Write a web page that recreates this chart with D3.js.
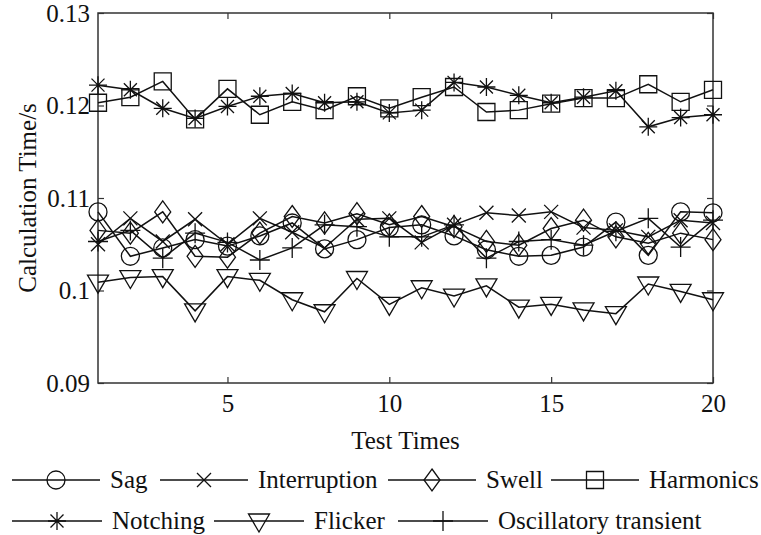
<!DOCTYPE html>
<html>
<head>
<meta charset="utf-8">
<script src="https://cdn.jsdelivr.net/npm/d3@7/dist/d3.min.js"></script>
<style>
  body { margin: 0; background: #fff; }
  text { font-family: "Liberation Serif", "Times New Roman", serif; fill: #111; }
</style>
</head>
<body>
<div id="chart"></div>
<script>
// test index 1..20
var testTimes = d3.range(1, 21);

var sag = [0.1085, 0.1037, 0.1046, 0.1055, 0.1048, 0.1059, 0.1073, 0.1045, 0.1055, 0.1068,
           0.1071, 0.1059, 0.1044, 0.1037, 0.1038, 0.1047, 0.1074, 0.1038, 0.1085, 0.1084];
var interruption = [0.1050, 0.1078, 0.1053, 0.1077, 0.1050, 0.1078, 0.1063, 0.1046, 0.1077, 0.1078,
                    0.1052, 0.1071, 0.1084, 0.1081, 0.1085, 0.1068, 0.1065, 0.1058, 0.1076, 0.1073];
var swell = [0.1065, 0.1062, 0.1085, 0.1037, 0.1036, 0.1062, 0.1080, 0.1073, 0.1083, 0.1071,
             0.1080, 0.1069, 0.1053, 0.1049, 0.1067, 0.1076, 0.1058, 0.1051, 0.1062, 0.1055];
var harmonics = [0.1203, 0.1209, 0.1226, 0.1185, 0.1218, 0.1190, 0.1204, 0.1195, 0.1210, 0.1197,
                 0.1209, 0.1220, 0.1193, 0.1195, 0.1202, 0.1208, 0.1208, 0.1223, 0.1204, 0.1217];
var notching = [0.1222, 0.1217, 0.1197, 0.1186, 0.1199, 0.1210, 0.1213, 0.1203, 0.1204, 0.1192,
                0.1195, 0.1225, 0.1220, 0.1211, 0.1203, 0.1209, 0.1216, 0.1177, 0.1187, 0.1190];
var flicker = [0.1009, 0.1014, 0.1015, 0.0978, 0.1015, 0.1011, 0.0990, 0.0977, 0.1013, 0.0985,
               0.1003, 0.0994, 0.1005, 0.0982, 0.0985, 0.0979, 0.0975, 0.1007, 0.0999, 0.0990];
var oscillatory = [0.1053, 0.1065, 0.1035, 0.1062, 0.1052, 0.1033, 0.1046, 0.1071, 0.1069, 0.1058,
                   0.1058, 0.1071, 0.1035, 0.1053, 0.1055, 0.1049, 0.1064, 0.1078, 0.1047, 0.1076];

var xTicks = [5, 10, 15, 20];
var yTicks = [0.09, 0.1, 0.11, 0.12, 0.13];

var seriesNames = ["Sag", "Interruption", "Swell", "Harmonics", "Notching", "Flicker", "Oscillatory transient"];
var seriesValues = [sag, interruption, swell, harmonics, notching, flicker, oscillatory];
var seriesMarkers = ["circle", "x", "diamond", "square", "asterisk", "triangle", "plus"];

// marker outlines, drawn around (0,0)
function markerPath(type) {
  switch (type) {
    case "circle":
      return "M9,0A9,9 0 1,1 -9,0A9,9 0 1,1 9,0Z";
    case "x":
      return "M-7,-7L7,7M-7,7L7,-7";
    case "diamond":
      return "M0,-11L8,0L0,11L-8,0Z";
    case "square":
      return "M-8.5,-8.5H8.5V8.5H-8.5Z";
    case "asterisk":
      return "M0,-9V9M-9,0H9M-6.5,-6.5L6.5,6.5M-6.5,6.5L6.5,-6.5";
    case "triangle":
      return "M-10.5,-7H10.5L0,11Z";
    case "plus":
      return "M0,-10V10M-10,0H10";
  }
}

var width = 761, height = 535;
var margin = {top: 13, right: 48, bottom: 152, left: 98};
var plotW = width - margin.left - margin.right,
    plotH = height - margin.top - margin.bottom;
var fontPx = "25px";

var svg = d3.select("#chart").append("svg")
  .attr("width", width)
  .attr("height", height);

var g = svg.append("g")
  .attr("transform", "translate(" + margin.left + "," + margin.top + ")");

var x = d3.scaleLinear().domain([1, 20]).range([0, plotW]);
var y = d3.scaleLinear().domain([0.09, 0.13]).range([plotH, 0]);

// box with inward ticks on all sides
function styleAxis(sel) {
  sel.select(".domain").remove();
  sel.selectAll(".tick line").attr("stroke", "#333").attr("stroke-width", 1.2);
  sel.selectAll(".tick text")
    .style("font-family", "'Liberation Serif', 'Times New Roman', serif")
    .style("font-size", fontPx)
    .attr("fill", "#111");
}

g.append("g")
  .attr("transform", "translate(0," + plotH + ")")
  .call(d3.axisBottom(x).tickValues(xTicks).tickSize(-6).tickPadding(11).tickFormat(d3.format("d")))
  .call(styleAxis);

g.append("g")
  .call(d3.axisTop(x).tickValues(xTicks).tickSize(-6).tickFormat(""))
  .call(styleAxis);

g.append("g")
  .call(d3.axisLeft(y).tickValues(yTicks).tickSize(-6).tickPadding(8).tickFormat(function(d) { return String(+d.toFixed(2)); }))
  .call(styleAxis);

g.append("g")
  .attr("transform", "translate(" + plotW + ",0)")
  .call(d3.axisRight(y).tickValues(yTicks).tickSize(-6).tickFormat(""))
  .call(styleAxis);

g.append("rect")
  .attr("width", plotW)
  .attr("height", plotH)
  .attr("fill", "none")
  .attr("stroke", "#333")
  .attr("stroke-width", 1.5);

// series
var line = d3.line()
  .x(function(d, i) { return x(testTimes[i]); })
  .y(function(d) { return y(d); });

seriesValues.forEach(function(vals, k) {
  g.append("path")
    .datum(vals)
    .attr("d", line)
    .attr("fill", "none")
    .attr("stroke", "#111")
    .attr("stroke-width", 1.5);

  g.selectAll(".m" + k)
    .data(vals)
    .enter().append("path")
    .attr("class", "m" + k)
    .attr("transform", function(d, i) { return "translate(" + x(testTimes[i]) + "," + y(d) + ")"; })
    .attr("d", markerPath(seriesMarkers[k]))
    .attr("fill", "none")
    .attr("stroke", "#111")
    .attr("stroke-width", 1.3);
});

// axis titles
svg.append("text")
  .attr("x", margin.left + plotW / 2)
  .attr("y", 449)
  .attr("text-anchor", "middle")
  .style("font-size", fontPx)
  .text("Test Times");

svg.append("text")
  .attr("transform", "translate(36," + (margin.top + plotH / 2) + ") rotate(-90)")
  .attr("text-anchor", "middle")
  .style("font-size", fontPx)
  .text("Calculation Time/s");

// legend, two rows
var legendRows = [
  {y: 480, items: [0, 1, 2, 3], starts: [12, 160, 388, 551], len: 88},
  {y: 521, items: [4, 5, 6], starts: [12, 214, 398], len: 90}
];

legendRows.forEach(function(row) {
  row.items.forEach(function(k, j) {
    var x0 = row.starts[j];
    var lg = svg.append("g").attr("transform", "translate(" + x0 + "," + row.y + ")");
    lg.append("line")
      .attr("x1", 0).attr("x2", row.len)
      .attr("stroke", "#111").attr("stroke-width", 1.5);
    lg.append("path")
      .attr("transform", "translate(" + row.len / 2 + ",0)")
      .attr("d", markerPath(seriesMarkers[k]))
      .attr("fill", "none")
      .attr("stroke", "#111")
      .attr("stroke-width", 1.3);
    lg.append("text")
      .attr("x", row.len + 10)
      .attr("y", 8)
      .style("font-size", fontPx)
      .text(seriesNames[k]);
  });
});
</script>
</body>
</html>
